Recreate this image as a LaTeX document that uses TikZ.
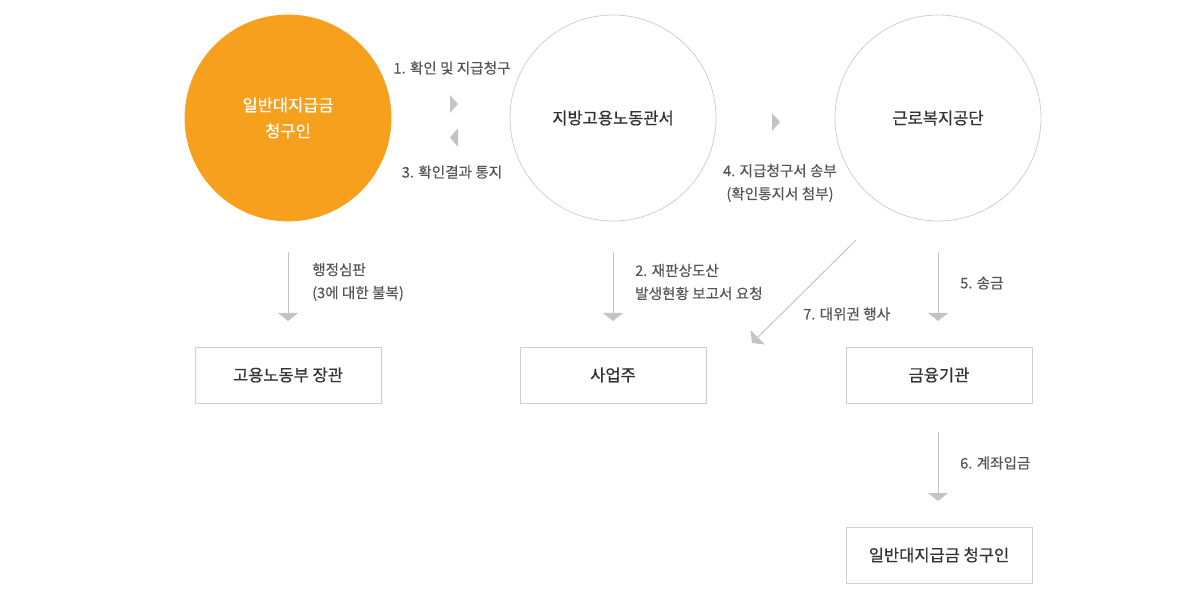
\documentclass[tikz,border=0pt]{standalone}
\usepackage{fontspec}
\setmainfont{Noto Sans CJK KR}
\newfontfamily\medfont[FakeBold=0.6]{Noto Sans CJK KR}
\newfontfamily\lblfont[FakeBold=0.3]{Noto Sans CJK KR}
\usetikzlibrary{arrows.meta}
\definecolor{orange1}{HTML}{F7A01E}
\definecolor{line1}{HTML}{CFCFCF}
\definecolor{arrow1}{HTML}{C4C4C4}
\definecolor{text1}{HTML}{555555}
\definecolor{text2}{HTML}{333333}
\begin{document}
\begin{tikzpicture}[x=1pt,y=-1pt]
\tikzstyle{circ}=[circle,draw=line1,line width=0.8pt,minimum size=206pt,inner sep=0pt,align=center,text=text2,font=\medfont\fontsize{16.5}{26}\selectfont]
\tikzstyle{box}=[rectangle,draw=line1,line width=0.8pt,minimum width=186pt,minimum height=56pt,text=text2,font=\medfont\fontsize{16.5}{20}\selectfont]
\tikzstyle{lbl}=[text=text1,font=\lblfont\fontsize{14.6}{23}\selectfont,inner sep=0pt]
\tikzstyle{arr}=[draw=arrow1,line width=1pt,-{Triangle[width=20pt,length=8pt]}]
\tikzstyle{tri}=[fill=arrow1]
\useasboundingbox (0,0) rectangle (1201,601);
% circles
\node[circ,fill=orange1,draw=orange1,text=white] (claimant) at (288,118) {일반대지급금\\청구인};
\node[circ] (office) at (613,118) {지방고용노동관서};
\node[circ] (agency) at (938,118) {근로복지공단};
% boxes
\node[box] (minister) at (288,375) {고용노동부 장관};
\node[box] (employer) at (613,375) {사업주};
\node[box] (bank) at (939,375) {금융기관};
\node[box] (receiver) at (939,555) {일반대지급금 청구인};
% small triangles
\fill[tri] (450,95) -- (458,104) -- (450,113) -- cycle;
\fill[tri] (458,128) -- (450,137.5) -- (458,147) -- cycle;
\fill[tri] (772,113) -- (780,122) -- (772,131) -- cycle;
% arrows
\coordinate (a1) at (288,252); \coordinate (b1) at (288,321);
\coordinate (a2) at (613,252); \coordinate (b2) at (613,321);
\coordinate (a5) at (938,252); \coordinate (b5) at (938,321);
\coordinate (a6) at (938,432); \coordinate (b6) at (938,501);
\coordinate (a7) at (856,240); \coordinate (b7) at (752,343);
\draw[arr] (a1) -- (b1);
\draw[arr] (a2) -- (b2);
\draw[arr] (a5) -- (b5);
\draw[arr] (a6) -- (b6);
\draw[arr] (a7) -- (b7);
% labels
\node[lbl] (l1) at (452,68) {1. 확인 및 지급청구};
\node[lbl] (l3) at (452,172) {3. 확인결과 통지};
\node[lbl,align=center] (l4) at (780,183) {4. 지급청구서 송부\\(확인통지서 첨부)};
\node[lbl,align=left,anchor=west] (lappeal) at (312,282) {행정심판\\(3에 대한 불복)};
\node[lbl,align=left,anchor=west] (l2) at (635,282) {2. 재판상도산\\발생현황 보고서 요청};
\node[lbl,anchor=west] (l7) at (803,314) {7. 대위권 행사};
\node[lbl,anchor=west] (l5) at (960,283) {5. 송금};
\node[lbl,anchor=west] (l6) at (960,463) {6. 계좌입금};
\end{tikzpicture}
\end{document}
